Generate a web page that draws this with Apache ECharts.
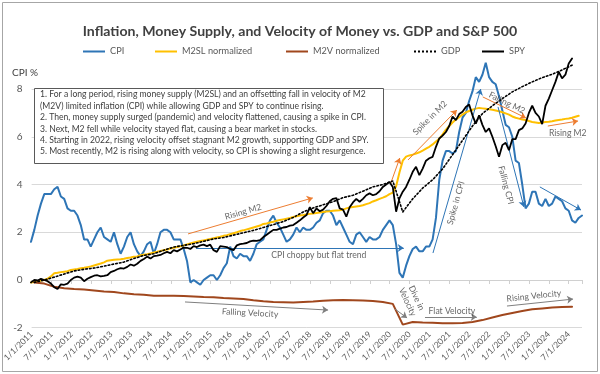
<!DOCTYPE html>
<html><head><meta charset="utf-8">
<script src="https://cdn.jsdelivr.net/npm/echarts@6/dist/echarts.min.js"></script>
<style>html,body{margin:0;padding:0;background:#fff}#c{width:600px;height:374px}</style>
</head><body><div id="c"></div>
<script>
// ---- data ----
const tickLabels = ['1/1/2011','7/1/2011','1/1/2012','7/1/2012','1/1/2013','7/1/2013','1/1/2014','7/1/2014',
  '1/1/2015','7/1/2015','1/1/2016','7/1/2016','1/1/2017','7/1/2017','1/1/2018','7/1/2018','1/1/2019','7/1/2019',
  '1/1/2020','7/1/2020','1/1/2021','7/1/2021','1/1/2022','7/1/2022','1/1/2023','7/1/2023','1/1/2024','7/1/2024'];
// monthly from Jan 2011
const cpi = [1.6,2.1,2.7,3.2,3.6,3.6,3.6,3.8,3.9,3.5,3.4,3.0,
  2.9,2.9,2.7,2.3,1.7,1.7,1.4,1.7,2.0,2.2,1.8,1.7,
  1.6,2.0,1.5,1.1,1.4,1.8,2.0,1.5,1.2,1.0,1.2,1.5,
  1.6,1.1,1.5,2.0,2.1,2.1,2.0,1.7,1.7,1.7,1.3,0.8,
  -0.1,0.0,-0.1,-0.2,0.0,0.1,0.2,0.2,0.0,0.2,0.5,0.7,
  1.4,1.0,0.9,1.1,1.0,1.0,0.8,1.1,1.5,1.6,1.7,2.1,
  2.5,2.7,2.4,2.2,1.9,1.6,1.7,1.9,2.2,2.0,2.2,2.1,
  2.1,2.2,2.4,2.5,2.8,2.9,2.9,2.7,2.3,2.5,2.2,1.9,
  1.6,1.5,1.9,2.0,1.8,1.6,1.8,1.7,1.7,1.8,2.1,2.3,
  2.5,2.3,1.5,0.3,0.1,0.6,1.0,1.3,1.4,1.2,1.2,1.4,
  1.4,1.7,2.6,4.2,5.0,5.4,5.4,5.3,5.4,6.2,6.8,7.0,
  7.5,7.9,8.5,8.3,8.6,9.1,8.5,8.3,8.2,7.7,7.1,6.5,
  6.4,6.0,5.0,4.9,4.0,3.0,3.2,3.7,3.7,3.2,3.1,3.4,
  3.1,3.2,3.5,3.4,3.3,3.0,2.9,2.5,2.4,2.6,2.7];
const m2sl = [-0.1,-0.08,-0.05,-0.02,0.0,0.05,0.15,0.28,0.3,0.33,0.35,0.37,
  0.42,0.44,0.46,0.49,0.51,0.54,0.57,0.61,0.65,0.69,0.74,0.81,
  0.83,0.85,0.86,0.87,0.89,0.92,0.94,0.97,0.99,1.04,1.06,1.08,
  1.11,1.15,1.18,1.22,1.25,1.28,1.32,1.35,1.38,1.41,1.45,1.49,
  1.53,1.57,1.6,1.63,1.66,1.69,1.72,1.75,1.78,1.81,1.85,1.88,
  1.92,1.96,2.0,2.05,2.08,2.12,2.16,2.2,2.24,2.28,2.35,2.37,
  2.41,2.44,2.48,2.51,2.54,2.57,2.6,2.64,2.67,2.7,2.72,2.75,
  2.77,2.79,2.81,2.83,2.85,2.87,2.88,2.9,2.91,2.92,2.95,3.0,
  3.04,3.06,3.08,3.1,3.13,3.18,3.22,3.29,3.34,3.4,3.45,3.51,
  3.6,3.66,3.93,4.5,5.0,5.17,5.22,5.25,5.3,5.35,5.42,5.5,
  5.58,5.68,5.8,5.92,6.1,6.3,6.45,6.6,6.72,6.82,6.93,7.02,
  7.08,7.13,7.18,7.21,7.19,7.17,7.15,7.13,7.1,7.07,7.03,6.98,
  6.93,6.85,6.8,6.76,6.72,6.7,6.66,6.62,6.6,6.58,6.6,6.62,
  6.63,6.65,6.68,6.7,6.72,6.75,6.77,6.8,6.84,6.88];
const spy = [-0.1,0.0,-0.02,0.05,0.0,-0.05,-0.15,-0.3,-0.38,-0.18,-0.2,-0.15,
  0.0,0.1,0.14,0.1,-0.05,0.05,0.12,0.18,0.2,0.15,0.17,0.2,
  0.33,0.38,0.45,0.5,0.48,0.55,0.65,0.6,0.68,0.8,0.88,0.98,
  0.9,1.0,1.02,1.05,1.12,1.18,1.12,1.25,1.2,1.28,1.36,1.35,
  1.3,1.42,1.38,1.45,1.48,1.42,1.48,1.25,1.18,1.42,1.4,1.38,
  1.3,1.25,1.45,1.5,1.52,1.55,1.62,1.65,1.64,1.67,1.8,1.9,
  2.0,2.1,2.1,2.15,2.2,2.22,2.28,2.3,2.4,2.5,2.62,2.72,
  3.05,2.8,3.0,2.88,2.95,3.1,3.3,3.4,3.43,3.0,2.95,2.65,
  3.05,3.25,3.4,3.28,3.4,3.55,3.63,3.55,3.6,3.72,3.9,4.0,
  4.11,3.9,2.86,3.42,3.7,3.9,4.2,4.53,4.74,4.39,4.67,5.0,
  5.1,5.16,5.58,5.93,6.05,6.2,6.45,6.85,6.7,6.95,7.05,7.25,
  7.35,6.9,6.55,6.9,6.5,6.2,6.35,6.0,5.6,5.16,5.65,5.75,
  5.44,5.9,5.9,6.28,6.35,6.56,7.0,7.3,7.0,6.85,6.53,7.3,
  7.6,7.95,8.3,8.72,8.45,8.6,9.07,9.28];
// quarterly, Q1 2011 .. Q3 2024 (plotted mid-quarter)
const gdpQ = [-0.1,0.0,0.12,0.25, 0.38,0.45,0.5,0.58, 0.67,0.75,0.9,1.03, 1.1,1.25,1.38,1.45,
  1.52,1.62,1.72,1.78, 1.88,1.98,2.08,2.2, 2.32,2.45,2.62,2.85, 3.02,3.15,3.28,3.45,
  3.55,3.72,3.9,4.0, 4.15,2.85,3.4,3.85, 4.2,4.65,5.25,5.85, 6.45,6.97,7.3,7.6,
  7.88,8.1,8.3,8.48, 8.62,8.8,9.0];
const m2vQ = [-0.1,-0.15,-0.28,-0.35, -0.38,-0.4,-0.44,-0.48, -0.5,-0.56,-0.6,-0.62, -0.66,-0.66,-0.66,-0.67,
  -0.69,-0.71,-0.72,-0.75, -0.77,-0.8,-0.85,-0.89, -0.92,-0.93,-0.94,-0.92, -0.9,-0.87,-0.85,-0.84,
  -0.85,-0.86,-0.88,-0.92, -1.0,-1.87,-1.76,-1.78, -1.79,-1.81,-1.81,-1.8, -1.76,-1.68,-1.57,-1.47,
  -1.38,-1.3,-1.23,-1.19, -1.15,-1.13,-1.12];
const seriesNames = ['CPI','M2SL normalized','M2V normalized','GDP','SPY'];
const noteLines = [
  '1. For a long period, rising money supply (M2SL) and an offsetting fall in velocity of M2',
  '(M2V) limited inflation (CPI) while allowing GDP and SPY to continue rising.',
  '2. Then, money supply surged (pandemic) and velocity flattened, causing a spike in CPI.',
  '3. Next, M2 fell while velocity stayed flat, causing a bear market in stocks.',
  '4. Starting in 2022, rising velocity offset stagnant M2 growth, supporting GDP and SPY.',
  '5. Most recently, M2 is rising along with velocity, so CPI is showing a slight resurgence.'];
// annotation arrows in data coords [monthIndex, value]
const arrows = [
  {from:[47.3,1.93], to:[84.9,3.44], c:'orange'},
  {from:[49.7,1.34], to:[112.3,1.34], c:'blue'},
  {from:[46.4,-0.92], to:[89.5,-1.26], c:'gray'},
  {from:[113.6,5.03], to:[128.3,7.12], c:'orange'},
  {from:[108.4,4.06], to:[111.1,5.11], c:'orange'},
  {from:[121.1,1.13], to:[135.5,8.0], c:'blue'},
  {from:[140.7,7.25], to:[148.5,3.06], c:'blue'},
  {from:[136.1,7.67], to:[149.1,6.79], c:'orange'},
  {from:[155.7,6.45], to:[164.8,6.66], c:'orange'},
  {from:[153.3,3.9], to:[165.7,2.93], c:'blue'},
  {from:[109.6,-1.21], to:[113.3,-1.59], c:'gray'},
  {from:[118.7,-1.55], to:[134.3,-1.55], c:'gray'},
  {from:[143.4,-1.09], to:[163.3,-0.8], c:'gray'}
];
const notes = [
  {at:[63.9,2.85], text:'Rising M2', r:16},
  {at:[86.7,1.02], text:'CPI choppy but flat trend', r:0},
  {at:[66,-1.38], text:'Falling Velocity', r:-3},
  {at:[120.2,6.79], text:'Spike in M2', r:45},
  {at:[128,3.23], text:'Spike in CPI', r:74},
  {at:[143.1,3.98], text:'Falling CPI', r:-75},
  {at:[143.4,7.42], text:'Falling M2', r:-26},
  {at:[161.7,6.16], text:'Rising M2', r:0},
  {at:[114.8,-0.84], text:'Dive in\nVelocity', r:-65},
  {at:[126.8,-1.3], text:'Flat Velocity', r:0},
  {at:[151.5,-0.67], text:'Rising Velocity', r:6}
];

// ---- styling ----
const FONT = 'Lato';
const colors = {CPI:'#2E75B6', M2SL:'#FFC000', M2V:'#A0471D', GDP:'#000000', SPY:'#000000'};
const annColors = {orange:'#ED7D31', blue:'#2E75B6', gray:'#7F7F7F'};
const X0 = 31, XR = 18;               // plot left / right margins
const Y0 = 280, UNIT = 23.87;         // pixel of value 0, pixels per unit
const gridBottom = 374 - (Y0 + 2 * UNIT);

// fit font sizes to the widths seen in the reference
const mctx = document.createElement('canvas').getContext('2d');
function fit(text, target, weight) {
  mctx.font = (weight || 'normal') + ' 10px ' + FONT;
  return Math.round(10 * target / mctx.measureText(text).width * 10) / 10;
}
const noteSize = fit(noteLines[0], 327);
const legendSize = fit('M2SL normalized', 70);
const annSize = fit('CPI choppy but flat trend', 95);
const titleSize = fit('Inflation, Money Supply, and Velocity of Money vs. GDP and S&P 500', 434, 'bold');

const monthly = arr => arr.map((v, i) => [i, v]);
const quarterly = arr => arr.map((v, k) => [1 + 3 * k, v]);

function lineSeries(name, data, color, width, type, z) {
  return {type:'line', name, data, symbol:'none', showSymbol:false, smooth:false,
    xAxisIndex:0, yAxisIndex:0, z, animation:false, clip:false,
    lineStyle:{color, width, type, cap:'round'}, itemStyle:{color}};
}

const legendPos = [78, 150, 281, 409, 477];
const dotIcon = 'path://M0,0h2v2h-2zM4,0h2v2h-2zM8,0h2v2h-2zM12,0h2v2h-2zM16,0h2v2h-2zM20,0h2v2h-2z';
const legendIcons = ['rect','rect','rect',dotIcon,'rect'];
const legendColors = [colors.CPI, colors.M2SL, colors.M2V, colors.GDP, colors.SPY];
const legends = seriesNames.map((n, i) => ({
  data:[{name:n, icon:legendIcons[i], itemStyle:{color:legendColors[i], borderWidth:0}}],
  left:legendPos[i], top:42, itemWidth:22, itemHeight:2, itemGap:4, selectedMode:false,
  textStyle:{fontSize:legendSize, color:'#595959', fontFamily:FONT, padding:[0,0,0,0]}
}));

const chart = echarts.init(document.getElementById('c'), null, {renderer:'canvas'});
chart.setOption({
  animation:false,
  backgroundColor:'#fff',
  title:{text:'Inflation, Money Supply, and Velocity of Money vs. GDP and S&P 500', left:'center', top:19,
    textStyle:{fontSize:titleSize, fontWeight:'bold', color:'#404040', fontFamily:FONT}},
  legend: legends,
  grid:[
    {left:X0, right:XR, top:Y0 - 10 * UNIT, bottom:gridBottom},
    {left:X0, right:XR, top:Y0 - 8 * UNIT, bottom:gridBottom}
  ],
  xAxis:[
    {type:'value', gridIndex:0, min:0, max:166, show:false},
    {type:'value', gridIndex:1, min:0, max:166, interval:6, position:'bottom',
      axisLine:{show:false, onZero:false}, axisTick:{show:false}, splitLine:{show:false},
      axisLabel:{rotate:45, fontSize:8.5, color:'#595959', fontFamily:FONT, margin:5,
        showMaxLabel:false,
        formatter:v => (v % 6 === 0 && tickLabels[v / 6]) ? tickLabels[v / 6] : ''}},
    {type:'value', gridIndex:1, min:0, max:166, interval:6, position:'top',
      axisLine:{show:true, onZero:true, lineStyle:{color:'#d0d0d0', width:1}},
      axisTick:{show:true, inside:true, length:4, lineStyle:{color:'#d0d0d0'}},
      axisLabel:{show:false}, splitLine:{show:false}}
  ],
  yAxis:[
    {type:'value', gridIndex:0, min:-2, max:10, show:false},
    {type:'value', gridIndex:1, min:-2, max:8, interval:2,
      axisLine:{show:false}, axisTick:{show:false},
      axisLabel:{fontSize:10, color:'#595959', fontFamily:FONT, margin:9},
      splitLine:{lineStyle:{color:'#d9d9d9', width:1}}}
  ],
  series:[
    lineSeries('CPI', monthly(cpi), colors.CPI, 2, 'solid', 2),
    lineSeries('M2SL normalized', monthly(m2sl), colors.M2SL, 2, 'solid', 3),
    lineSeries('M2V normalized', quarterly(m2vQ), colors.M2V, 2, 'solid', 4),
    lineSeries('GDP', quarterly(gdpQ), colors.GDP, 1.6, [1.6, 2.2], 5),
    lineSeries('SPY', monthly(spy), colors.SPY, 1.8, 'solid', 6),
    {type:'line', name:'arrows', data:[[0, null]], xAxisIndex:0, yAxisIndex:0, symbol:'none', z:7,
      markLine:{silent:true, animation:false, symbol:['none','arrow'], symbolSize:6, precision:4,
        label:{show:false},
        data: arrows.map(a => [
          {coord:a.from, lineStyle:{color:annColors[a.c], width:1, type:'solid'}, itemStyle:{color:annColors[a.c]}},
          {coord:a.to}
        ])}
    },
    {type:'scatter', name:'notes', xAxisIndex:0, yAxisIndex:0, z:8, silent:true, animation:false,
      symbol:'rect', symbolSize:1, itemStyle:{color:'rgba(0,0,0,0)'},
      data: notes.map(n => ({value:n.at,
        label:{show:true, position:'inside', formatter:n.text, rotate:n.r, color:'#404040',
          fontSize:annSize, fontFamily:FONT, lineHeight:annSize * 1.15, align:'center', verticalAlign:'middle'}}))}
  ],
  graphic:[
    {type:'rect', shape:{x:2.5, y:2.5, width:595, height:369}, style:{fill:'none', stroke:'#a6a6a6', lineWidth:1}, z:0, silent:true},
    {type:'text', x:12, y:73, style:{text:'CPI %', fontSize:10, fontFamily:FONT, fill:'#404040', verticalAlign:'middle'}, z:10},
    {type:'rect', shape:{x:34.5, y:88.5, width:349, height:75}, style:{fill:'#fff', stroke:'#595959', lineWidth:1}, z:50},
    {type:'text', x:40, y:89, z:51,
      style:{text:noteLines.join('\n'), fontSize:noteSize, fontFamily:FONT, fill:'#404040', lineHeight:11.4, verticalAlign:'top'}}
  ]
});
</script></body></html>
